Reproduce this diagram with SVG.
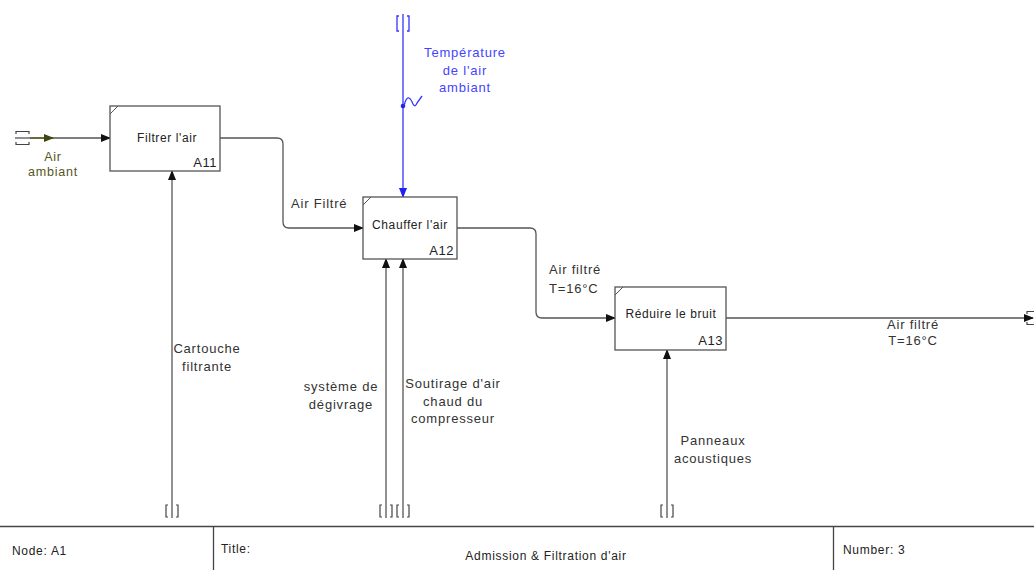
<svg xmlns="http://www.w3.org/2000/svg" width="1034" height="570" viewBox="0 0 1034 570">
  <style>
    .box { fill: #ffffff; stroke: #555555; stroke-width: 1.3; }
    .corner { stroke: #555555; stroke-width: 1; fill: none; }
    .lbl { font-family: "Liberation Sans", Arial, sans-serif; font-size: 12px; letter-spacing: 0.6px; fill: #222222; }
    .num { font-family: "Liberation Sans", Arial, sans-serif; font-size: 13px; letter-spacing: 0.5px; fill: #222222; }
    .arc { fill: none; stroke: #555555; stroke-width: 1.3; }
    .tl { font-family: "Liberation Sans", Arial, sans-serif; font-size: 13px; letter-spacing: 0.8px; fill: #333333; }
    .ctl { fill: none; stroke: #3333ff; stroke-width: 1.3; }
    .blue { font-family: "Liberation Sans", Arial, sans-serif; font-size: 13px; letter-spacing: 0.8px; fill: #4444ff; }
    .olive { font-family: "Liberation Sans", Arial, sans-serif; font-size: 12.5px; letter-spacing: 0.8px; fill: #555522; }
    .brk { fill: none; stroke: #444444; stroke-width: 1.2; }
    .foot { font-family: "Liberation Sans", Arial, sans-serif; font-size: 12px; letter-spacing: 0.7px; fill: #222222; }
  </style>
  <defs>
    <marker id="ah" markerWidth="10" markerHeight="8" refX="9" refY="4" orient="auto" markerUnits="userSpaceOnUse">
      <path d="M0,0 L10,4 L0,8 Z" fill="#111111"/>
    </marker>
    <marker id="ahb" markerWidth="10" markerHeight="8" refX="9" refY="4" orient="auto" markerUnits="userSpaceOnUse">
      <path d="M0,0 L10,4 L0,8 Z" fill="#2222ee"/>
    </marker>
    <marker id="aho" markerWidth="10" markerHeight="8" refX="9" refY="4" orient="auto" markerUnits="userSpaceOnUse">
      <path d="M0,0 L10,4 L0,8 Z" fill="#444411"/>
    </marker>
  </defs>

  <rect width="1034" height="570" fill="#ffffff"/>

  <!-- connectors -->
  <g id="connectors">
    <!-- input: Air ambiant -->
    <path d="M15,138 H30" stroke="#555555" stroke-width="1.3" fill="none"/>
    <path d="M30,138 H53" stroke="#444411" stroke-width="1.6" fill="none" marker-end="url(#aho)"/>
    <path d="M53,138 H110" class="arc" marker-end="url(#ah)"/>
    <path class="brk" d="M16,134 V131.5 H29 V134 M16,142 V144.5 H29 V142"/>
    <text class="olive" x="53" y="161" text-anchor="middle">Air</text>
    <text class="olive" x="53" y="176" text-anchor="middle">ambiant</text>

    <!-- A11 -> A12 : Air Filtré -->
    <path d="M220,138 H277 Q283,138 283,144 V222 Q283,228 289,228 H363" class="arc" marker-end="url(#ah)"/>
    <text class="tl" x="291" y="208">Air Filtré</text>

    <!-- A12 -> A13 : Air filtré T=16°C -->
    <path d="M457,228 H530 Q536,228 536,234 V312 Q536,318 542,318 H615" class="arc" marker-end="url(#ah)"/>
    <text class="tl" x="549" y="274">Air filtré</text>
    <text class="tl" x="549" y="293">T=16°C</text>

    <!-- A13 output -->
    <path d="M726,318 H1033" class="arc" marker-end="url(#ah)"/>
    <path class="brk" d="M1027,314 V311.5 H1034 M1027,322 V324.5 H1034"/>
    <text class="tl" x="913" y="329" text-anchor="middle">Air filtré</text>
    <text class="tl" x="913" y="345" text-anchor="middle">T=16°C</text>

    <!-- control: Température de l'air ambiant -->
    <path d="M403,14 V197" class="ctl" marker-end="url(#ahb)"/>
    <path class="ctl" d="M399,16 H397 V31 H399 M407,16 H409 V31 H407"/>
    <circle cx="403" cy="106" r="2.3" fill="#2222ee"/>
    <path class="ctl" stroke-width="1" d="M404,106 Q406,97 409,98 Q411,99 413,104 Q415,108 417,103 L422,96"/>
    <text class="blue" x="465" y="57" text-anchor="middle">Température</text>
    <text class="blue" x="465" y="75" text-anchor="middle">de l'air</text>
    <text class="blue" x="465" y="92" text-anchor="middle">ambiant</text>

    <!-- mechanism: Cartouche filtrante -->
    <path d="M172,518 V171" class="arc" marker-end="url(#ah)"/>
    <path class="brk" d="M168,505 H166 V517 H168 M176,505 H178 V517 H176"/>
    <text class="tl" x="207" y="353" text-anchor="middle">Cartouche</text>
    <text class="tl" x="207" y="371" text-anchor="middle">filtrante</text>

    <!-- mechanisms of A12 -->
    <path d="M386,518 V259" class="arc" marker-end="url(#ah)"/>
    <path d="M403,518 V259" class="arc" marker-end="url(#ah)"/>
    <path class="brk" d="M382,505 H380 V517 H382 M390,505 H392 V517 H390"/>
    <path class="brk" d="M399,505 H397 V517 H399 M407,505 H409 V517 H407"/>
    <text class="tl" x="341" y="391" text-anchor="middle">système de</text>
    <text class="tl" x="341" y="409" text-anchor="middle">dégivrage</text>
    <text class="tl" x="453" y="388" text-anchor="middle">Soutirage d'air</text>
    <text class="tl" x="453" y="406" text-anchor="middle">chaud du</text>
    <text class="tl" x="453" y="423" text-anchor="middle">compresseur</text>

    <!-- mechanism: Panneaux acoustiques -->
    <path d="M667,518 V350" class="arc" marker-end="url(#ah)"/>
    <path class="brk" d="M663,505 H661 V517 H663 M671,505 H673 V517 H671"/>
    <text class="tl" x="713" y="445" text-anchor="middle">Panneaux</text>
    <text class="tl" x="713" y="463" text-anchor="middle">acoustiques</text>
  </g>

  <!-- activity boxes -->
  <g id="A11">
    <rect class="box" x="110" y="106" width="110" height="65"/>
    <path class="corner" d="M110,114 L118,106"/>
    <text class="lbl" x="167" y="142" text-anchor="middle">Filtrer l'air</text>
    <text class="num" x="217" y="167" text-anchor="end">A11</text>
  </g>
  <g id="A12">
    <rect class="box" x="363" y="197" width="94" height="62"/>
    <path class="corner" d="M363,205 L371,197"/>
    <text class="lbl" x="410" y="229" text-anchor="middle">Chauffer l'air</text>
    <text class="num" x="454" y="255" text-anchor="end">A12</text>
  </g>
  <g id="A13">
    <rect class="box" x="615" y="287" width="111" height="63"/>
    <path class="corner" d="M615,295 L623,287"/>
    <text class="lbl" x="671" y="318" text-anchor="middle">Réduire le bruit</text>
    <text class="num" x="723" y="345" text-anchor="end">A13</text>
  </g>

  <!-- title block -->
  <g id="footer">
    <path d="M0,526.5 H1034" stroke="#444444" stroke-width="1.3" fill="none"/>
    <path d="M213.5,526 V570 M833.5,526 V570" stroke="#444444" stroke-width="1.3" fill="none"/>
    <text class="foot" x="12" y="555">Node: A1</text>
    <text class="foot" x="221" y="553">Title:</text>
    <text class="foot" x="546" y="560" text-anchor="middle">Admission &amp; Filtration d'air</text>
    <text class="foot" x="843" y="554">Number: 3</text>
  </g>
</svg>
